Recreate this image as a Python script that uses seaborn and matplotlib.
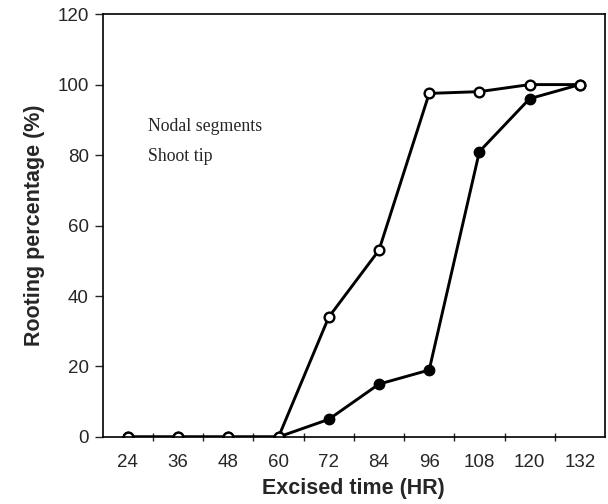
import numpy as np
import pandas as pd
import seaborn as sns
from matplotlib import pyplot as plt

hours = [24, 36, 48, 60, 72, 84, 96, 108, 120, 132]
nodal = [0, 0, 0, 0, 34, 53, 97.5, 98, 100, 100]
shoot = [0, 0, 0, 0, 5, 15, 19, 81, 96, 100]

sns.set_style("ticks")
plt.rcParams['font.family'] = ['Liberation Sans', 'DejaVu Sans']

fig = plt.figure(figsize=(6.08, 5.04), dpi=100)
ax = fig.add_axes([0.169, 0.133, 0.826, 0.839])

# filled series first, open circles drawn on top
sns.lineplot(x=hours, y=shoot, ax=ax, color='black', linewidth=2.1,
             marker='o', markersize=7, markerfacecolor='black',
             markeredgecolor='black', markeredgewidth=1.5)
sns.lineplot(x=hours, y=nodal, ax=ax, color='black', linewidth=2.1,
             marker='o', markersize=7, markerfacecolor='white',
             markeredgecolor='black', markeredgewidth=1.7)

ax.set_xlim(18, 138)
ax.set_ylim(0, 120)
ax.set_xticks(hours)
ax.set_xticks([h + 6 for h in hours[:-1]], minor=True)
ax.set_yticks(range(0, 121, 20))
ax.tick_params(axis='x', which='major', length=0, pad=12, labelsize=13.5)
ax.tick_params(axis='x', which='minor', length=6, direction='inout', width=1)
ax.tick_params(axis='y', length=6, width=1, labelsize=13.5, pad=4)
for sp in ax.spines.values():
    sp.set_linewidth(1.2)
    sp.set_color('black')

ax.set_xlabel('Excised time (HR)', fontsize=15.5, fontweight='bold', labelpad=5)
ax.set_ylabel('Rooting percentage (%)', fontsize=15.5, fontweight='bold', labelpad=9)

ax.text(0.09, 0.735, 'Nodal segments', transform=ax.transAxes,
        family=['Liberation Serif'], fontsize=12.8, va='center')
ax.text(0.09, 0.664, 'Shoot tip', transform=ax.transAxes,
        family=['Liberation Serif'], fontsize=12.8, va='center')

fig.savefig('out.png', dpi=100)
